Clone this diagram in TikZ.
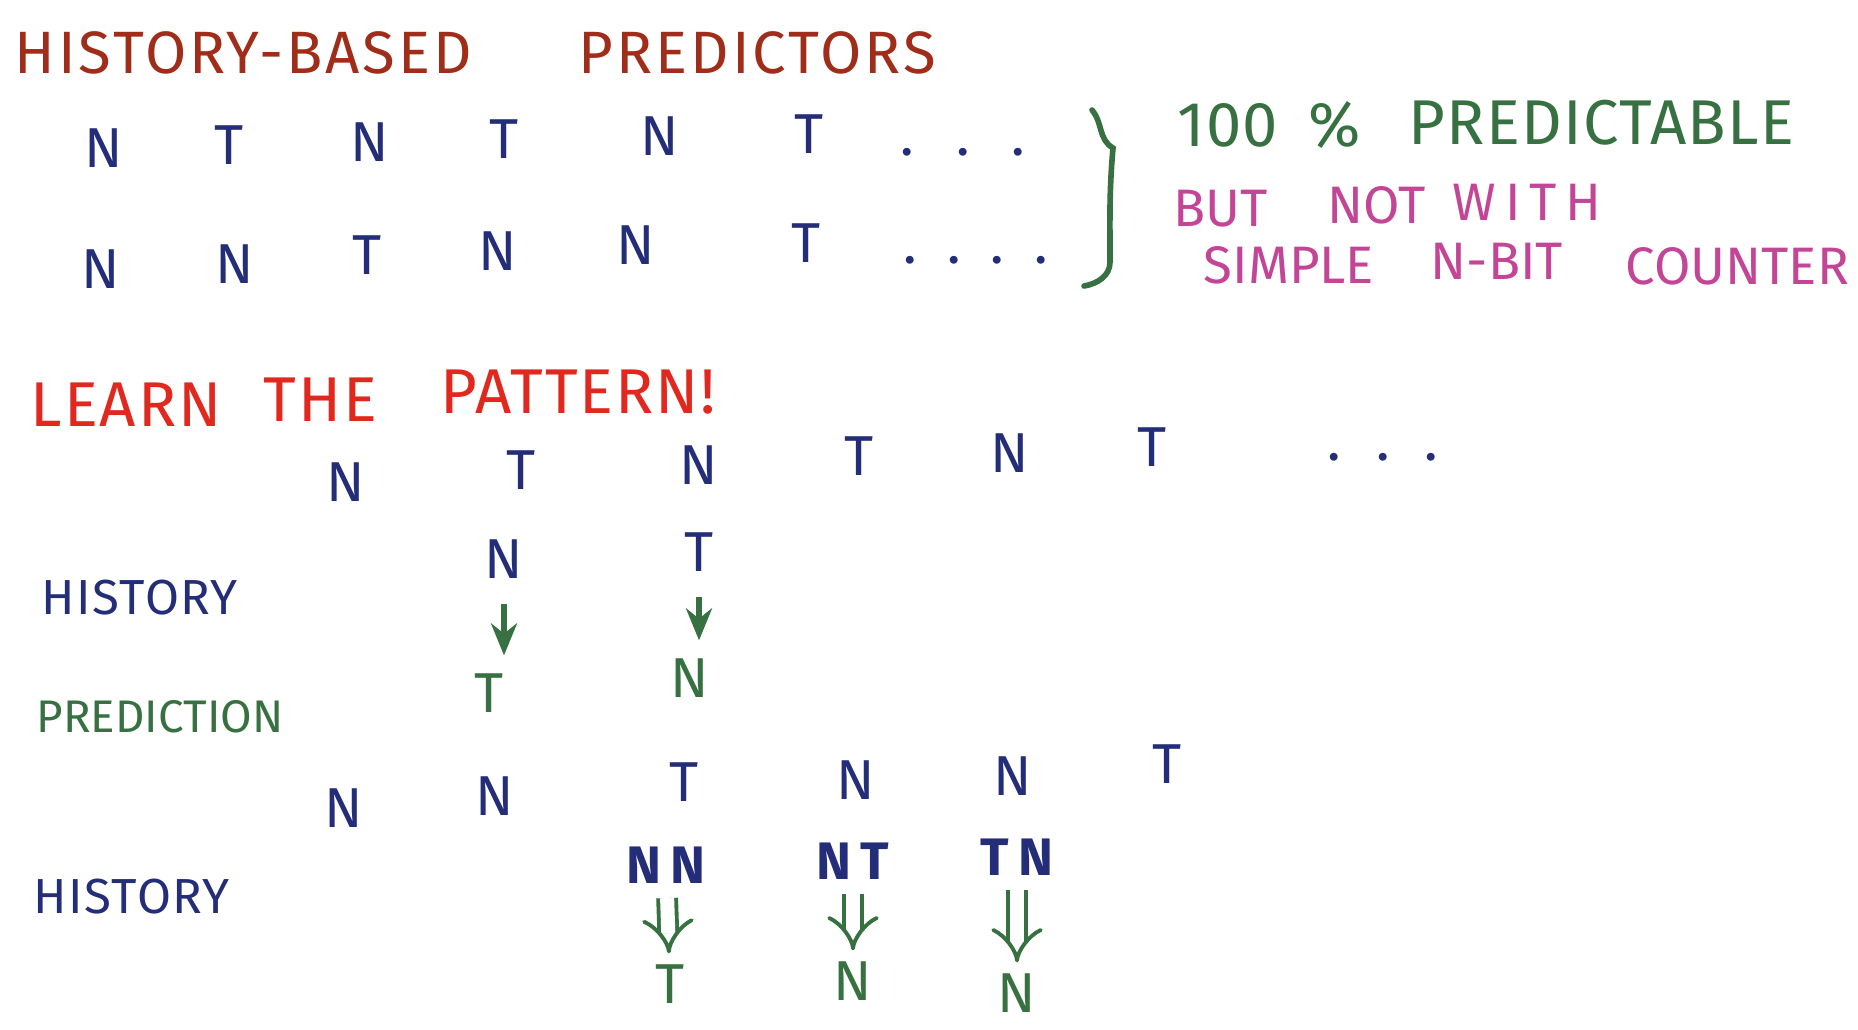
\documentclass[tikz,border=0pt]{standalone}
\usepackage{fontspec}
\setmainfont{Fira Sans}
\usepackage{tikz}
\usetikzlibrary{arrows.meta}
\usepackage{xcolor}
\definecolor{TitleRed}{RGB}{160,45,25}
\definecolor{SeqBlue}{RGB}{35,45,120}
\definecolor{PenGreen}{RGB}{55,112,65}
\definecolor{PenMagenta}{RGB}{195,70,150}
\definecolor{LearnRed}{RGB}{225,40,30}
\tikzset{
	>={Stealth[length=3.2mm,width=2.6mm]},
	title/.style={TitleRed, font=\fontsize{17}{20}\selectfont\addfontfeatures{LetterSpace=5}, anchor=west, inner sep=0pt},
	learn/.style={LearnRed, font=\fontsize{18}{22}\selectfont\addfontfeatures{LetterSpace=3}, anchor=west, inner sep=0pt},
	seq/.style={SeqBlue, font=\fontsize{16}{19}\selectfont, inner sep=0pt},
	pair/.style={SeqBlue, font=\fontsize{15}{18}\selectfont\bfseries, inner sep=0pt},
	pred/.style={PenGreen, font=\fontsize{16}{19}\selectfont, inner sep=0pt},
	rowlabel/.style={font=\fontsize{14}{17}\selectfont\addfontfeatures{LetterSpace=3}, anchor=west, inner sep=0pt},
	claim/.style={PenGreen, font=\fontsize{18}{22}\selectfont\addfontfeatures{LetterSpace=2}, anchor=west, inner sep=0pt},
	caveat/.style={PenMagenta, font=\fontsize{15}{18}\selectfont, anchor=west, inner sep=0pt},
	singlearrow/.style={PenGreen, line width=1.5pt, ->, shorten <=7pt, shorten >=5pt},
	doublearrow/.style={PenGreen, line width=1.1pt, double, double distance=4pt, -{Implies}, shorten <=4pt, shorten >=3pt},
}
\begin{document}
\begin{tikzpicture}[x=0.01cm, y=-0.01cm]
	
	% Page frame
	\fill[white] (0,0) rectangle (1858,1029);
	\clip (0,0) rectangle (1858,1029);
	
	% Title
	\node[title] (titleA) at (14,53) {HISTORY-BASED};
	\node[title] (titleB) at (578,53) {PREDICTORS};
	
	% First sequence
	\node[seq] (sa1) at (104,148) {N};
	\node[seq] (sa2) at (229,145) {T};
	\node[seq] (sa3) at (370,142) {N};
	\node[seq] (sa4) at (504,139) {T};
	\node[seq] (sa5) at (660,136) {N};
	\node[seq] (sa6) at (809,134) {T};
	\node[seq, anchor=west] (sadots) at (900,152) {.\hspace{0.42cm}.\hspace{0.42cm}.};
	
	% Second sequence
	\node[seq] (sb1) at (101,269) {N};
	\node[seq] (sb2) at (235,264) {N};
	\node[seq] (sb3) at (367,255) {T};
	\node[seq] (sb4) at (498,251) {N};
	\node[seq] (sb5) at (636,245) {N};
	\node[seq] (sb6) at (806,243) {T};
	\node[seq, anchor=west] (sbdots) at (903,260) {.\hspace{0.3cm}.\hspace{0.3cm}.\hspace{0.3cm}.};
	
	% Brace grouping both sequences
	\draw[PenGreen, line width=1.6pt, line cap=round]
		(1092,110) to[out=-50,in=150] (1113,148)
		to[out=-95,in=90] (1110,262)
		to[out=-90,in=10] (1084,286);
	
	% Remarks on the right
	\node[claim] (claimA) at (1177,125) {100\hspace{0.3cm}\%};
	\node[claim] (claimB) at (1408,123) {PREDICTABLE};
	\node[caveat] (cavA) at (1173,209) {BUT};
	\node[caveat] (cavB) at (1327,205) {NOT};
	\node[caveat] (cavC) at (1452,202) {W\,I\,T\,H};
	\node[caveat] (cavD) at (1203,265) {SIMPLE};
	\node[caveat] (cavE) at (1430,261) {N-BIT};
	\node[caveat] (cavF) at (1625,266) {COUNTER};
	
	% Second heading
	\node[learn] (learnA) at (30,405) {LEARN};
	\node[learn] (learnB) at (263,400) {THE};
	\node[learn] (learnC) at (440,392) {PATTERN!};
	
	% Third sequence
	\node[seq] (sc1) at (346,482) {N};
	\node[seq] (sc2) at (521,470) {T};
	\node[seq] (sc3) at (699,465) {N};
	\node[seq] (sc4) at (859,456) {T};
	\node[seq] (sc5) at (1010,453) {N};
	\node[seq] (sc6) at (1152,447) {T};
	\node[seq, anchor=west] (scdots) at (1327,457) {.\hspace{0.35cm}.\hspace{0.35cm}.};
	
	% One-bit history and prediction
	\node[rowlabel, SeqBlue] (histA) at (41,598) {HISTORY};
	\node[rowlabel, PenGreen, font=\fontsize{13}{16}\selectfont] (predA) at (36,717) {PREDICTION};
	\node[seq] (ha1) at (504,559) {N};
	\node[seq] (ha2) at (699,552) {T};
	\node[pred] (pa1) at (489,693) {T};
	\node[pred] (pa2) at (690,678) {N};
	\draw[singlearrow] (ha1) -- (ha1 |- pa1.north);
	\draw[singlearrow] (ha2) -- (ha2 |- pa2.north);
	
	% Fourth sequence
	\node[seq] (sd1) at (344,808) {N};
	\node[seq] (sd2) at (495,796) {N};
	\node[seq] (sd3) at (684,782) {T};
	\node[seq] (sd4) at (856,780) {N};
	\node[seq] (sd5) at (1013,776) {N};
	\node[seq] (sd6) at (1167,764) {T};
	
	% Two-bit history and prediction
	\node[rowlabel, SeqBlue] (histB) at (33,897) {HISTORY};
	\node[pair] (hb1) at (666,865) {N\,N};
	\node[pair] (hb2) at (853,861) {N\,T};
	\node[pair] (hb3) at (1017,857) {T\,N};
	\node[pred] (pb1) at (670,984) {T};
	\node[pred] (pb2) at (853,981) {N};
	\node[pred] (pb3) at (1017,993) {N};
	\draw[doublearrow] (hb1) -- (pb1);
	\draw[doublearrow] (hb2) -- (pb2);
	\draw[doublearrow] (hb3) -- (pb3);
	
\end{tikzpicture}
\end{document}
